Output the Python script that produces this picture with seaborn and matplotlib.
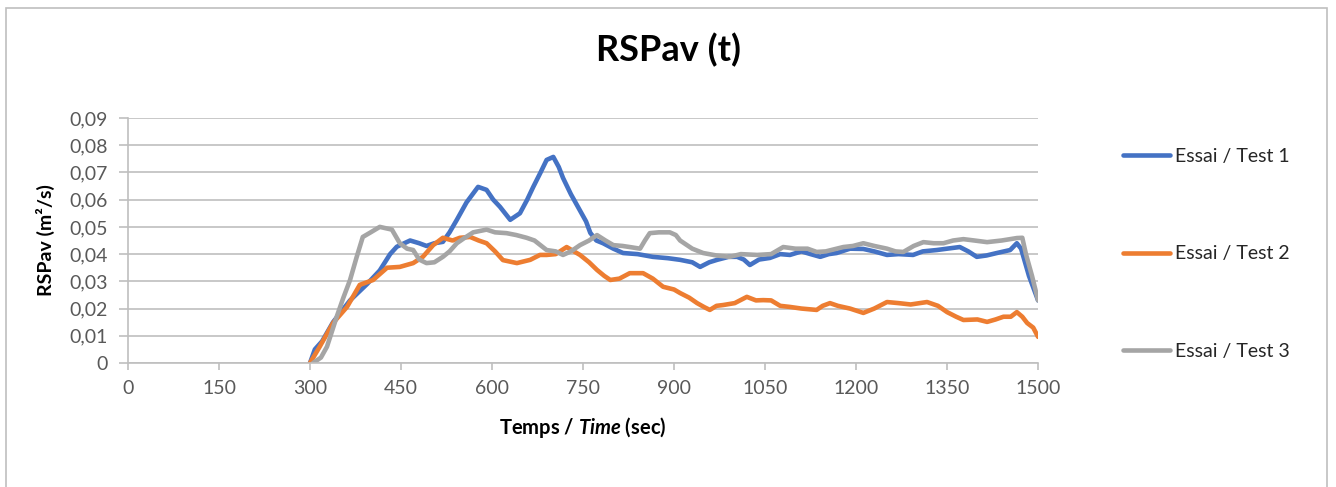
import matplotlib
matplotlib.use("Agg")
import matplotlib.pyplot as plt
import seaborn as sns
import pandas as pd
from matplotlib.ticker import FuncFormatter, MultipleLocator
from matplotlib.patches import Rectangle

t1 = [300, 308, 320, 338, 366, 394, 415, 432, 443, 465, 480, 492, 505, 519, 530, 542, 558, 577, 591, 602,
      613, 630, 646, 658, 668, 680, 690, 701, 710, 717, 730, 745, 755, 762, 772, 783, 800, 816, 840, 865,
      890, 910, 930, 943, 958, 971, 990, 1004, 1015, 1025, 1040, 1058, 1075, 1091, 1110, 1125, 1141, 1155,
      1168, 1190, 1212, 1230, 1251, 1270, 1294, 1310, 1333, 1350, 1371, 1385, 1399, 1415, 1432, 1454, 1465,
      1472, 1485, 1500]
v1 = [0, 0.005, 0.008, 0.015, 0.023, 0.029, 0.034, 0.040, 0.0427, 0.045, 0.044, 0.043, 0.044, 0.0445, 0.048,
      0.0526, 0.059, 0.0647, 0.0636, 0.060, 0.0574, 0.0526, 0.055, 0.060, 0.0647, 0.070, 0.0746, 0.0757,
      0.072, 0.068, 0.062, 0.056, 0.052, 0.0478, 0.045, 0.044, 0.042, 0.0404, 0.040, 0.039, 0.0385, 0.0379,
      0.037, 0.0353, 0.037, 0.0379, 0.039, 0.039, 0.038, 0.036, 0.038, 0.0386, 0.040, 0.0397, 0.041, 0.040,
      0.039, 0.040, 0.0404, 0.042, 0.0419, 0.041, 0.0397, 0.040, 0.0397, 0.041, 0.0415, 0.042, 0.0426, 0.041,
      0.039, 0.0395, 0.0404, 0.0415, 0.044, 0.042, 0.032, 0.023]

t2 = [300, 316, 338, 361, 382, 404, 427, 448, 470, 486, 503, 519, 535, 547, 564, 578, 591, 605, 618, 641,
      663, 679, 690, 705, 723, 735, 745, 760, 773, 785, 795, 810, 827, 849, 865, 882, 900, 910, 925, 938,
      950, 959, 970, 981, 1000, 1020, 1035, 1047, 1060, 1075, 1091, 1110, 1135, 1145, 1157, 1170, 1190,
      1212, 1230, 1251, 1270, 1290, 1317, 1335, 1350, 1365, 1377, 1400, 1416, 1430, 1443, 1455, 1465,
      1474, 1482, 1492, 1500]
v2 = [0, 0.006, 0.0147, 0.0206, 0.0287, 0.0305, 0.035, 0.0353, 0.0367, 0.039, 0.0433, 0.046, 0.045, 0.046,
      0.0463, 0.045, 0.044, 0.041, 0.0378, 0.0367, 0.0379, 0.0397, 0.0397, 0.040, 0.0426, 0.041, 0.0397,
      0.037, 0.0342, 0.032, 0.0305, 0.031, 0.033, 0.033, 0.031, 0.028, 0.027, 0.0257, 0.024, 0.022, 0.0205,
      0.0195, 0.021, 0.0213, 0.022, 0.0243, 0.023, 0.0231, 0.023, 0.021, 0.0206, 0.020, 0.0195, 0.021, 0.022,
      0.021, 0.020, 0.0184, 0.020, 0.0224, 0.022, 0.0215, 0.0224, 0.021, 0.0187, 0.017, 0.0158, 0.016,
      0.0151, 0.016, 0.017, 0.017, 0.0187, 0.017, 0.0147, 0.013, 0.0096]

t3 = [305, 318, 328, 344, 355, 366, 377, 387, 400, 415, 425, 435, 448, 460, 470, 480, 492, 505, 519, 530,
      542, 555, 569, 591, 605, 624, 640, 657, 670, 690, 705, 717, 730, 745, 760, 773, 787, 800, 815, 827,
      844, 852, 860, 875, 893, 903, 910, 930, 948, 970, 992, 1010, 1037, 1060, 1080, 1100, 1120, 1135,
      1150, 1179, 1195, 1212, 1230, 1251, 1265, 1278, 1295, 1311, 1328, 1344, 1360, 1377, 1395, 1416,
      1440, 1465, 1474, 1480, 1490, 1500]
v3 = [0, 0.002, 0.006, 0.017, 0.024, 0.0305, 0.039, 0.0463, 0.048, 0.050, 0.0495, 0.049, 0.044, 0.042,
      0.0415, 0.038, 0.0367, 0.037, 0.039, 0.041, 0.044, 0.046, 0.048, 0.049, 0.048, 0.0477, 0.047, 0.046,
      0.045, 0.0415, 0.041, 0.0397, 0.041, 0.0433, 0.045, 0.047, 0.045, 0.0433, 0.043, 0.0426, 0.042, 0.045,
      0.0477, 0.048, 0.048, 0.047, 0.045, 0.042, 0.0404, 0.0395, 0.039, 0.040, 0.0397, 0.040, 0.0426, 0.042,
      0.042, 0.0408, 0.041, 0.0426, 0.043, 0.044, 0.043, 0.042, 0.041, 0.0408, 0.043, 0.0444, 0.044, 0.044,
      0.045, 0.0455, 0.045, 0.0444, 0.045, 0.0459, 0.046, 0.040, 0.032, 0.023]

labels = ["Essai / Test 1", "Essai / Test 2", "Essai / Test 3"]
colors = ["#4472C4", "#ED7D31", "#A5A5A5"]
x_ticks = list(range(0, 1501, 150))

df = pd.concat([
    pd.DataFrame({"t": t1, "v": v1, "s": labels[0]}),
    pd.DataFrame({"t": t2, "v": v2, "s": labels[1]}),
    pd.DataFrame({"t": t3, "v": v3, "s": labels[2]}),
])

sns.set_theme(style="white")
plt.rcParams["font.family"] = ["Lato", "DejaVu Sans"]
plt.rcParams["mathtext.fontset"] = "custom"
plt.rcParams["mathtext.bfit"] = "Lato:bold:italic"
plt.rcParams["mathtext.it"] = "Lato:italic"
plt.rcParams["mathtext.rm"] = "Lato"
plt.rcParams["mathtext.bf"] = "Lato:bold"

fig = plt.figure(figsize=(13.36, 4.87), dpi=100)
ax = fig.add_axes([0.0958, 0.2546, 0.6812, 0.5031])

sns.lineplot(data=df, x="t", y="v", hue="s", palette=colors, linewidth=3.3, ax=ax,
             sort=False, estimator=None, solid_capstyle="round")

ax.set_xlim(0, 1500)
ax.set_ylim(0, 0.09)
ax.set_xticks(x_ticks)
ax.yaxis.set_major_locator(MultipleLocator(0.01))
ax.yaxis.set_major_formatter(FuncFormatter(lambda v, p: "0" if abs(v) < 1e-9 else f"{v:.2f}".replace(".", ",")))
ax.grid(axis="y", color="#BFBFBF", linewidth=1.2)
ax.set_axisbelow(True)
for s in ["top", "right"]:
    ax.spines[s].set_visible(False)
for s in ["left", "bottom"]:
    ax.spines[s].set_color("#BFBFBF")
    ax.spines[s].set_linewidth(1.2)
ax.tick_params(axis="y", which="major", length=6.5, width=1.2, color="#BFBFBF",
               labelsize=14, labelcolor="#595959", direction="out", pad=8, left=True)
ax.tick_params(axis="x", which="major", length=5, width=1.2, color="#BFBFBF",
               labelsize=14, labelcolor="#595959", direction="out", pad=7, bottom=True)

ax.set_ylabel("RSPav (m²/s)", fontsize=14, fontweight="bold", color="#000000", labelpad=10)
ax.set_xlabel("Temps / $\\mathbfit{Time}$ (sec)", fontsize=14.5, fontweight="bold", color="#000000", labelpad=13)

fig.text(0.5, 0.897, "RSPav (t)", ha="center", va="center", fontsize=26, fontweight="bold", color="#000000")

leg = ax.legend(loc="center left", bbox_to_anchor=(1.0934, 0.445), frameon=False, fontsize=14,
                handlelength=2.42, handletextpad=0.26, labelspacing=4.14, borderpad=0,
                borderaxespad=0, title=None)
for h in leg.get_lines():
    h.set_linewidth(3.3)
for txt in leg.get_texts():
    txt.set_color("#262626")

fig.patches.append(Rectangle((0.0045, -0.1), 0.989, 1.083, transform=fig.transFigure,
                             fill=False, edgecolor="#BFBFBF", linewidth=1.2))

fig.savefig("out.png", dpi=100)
